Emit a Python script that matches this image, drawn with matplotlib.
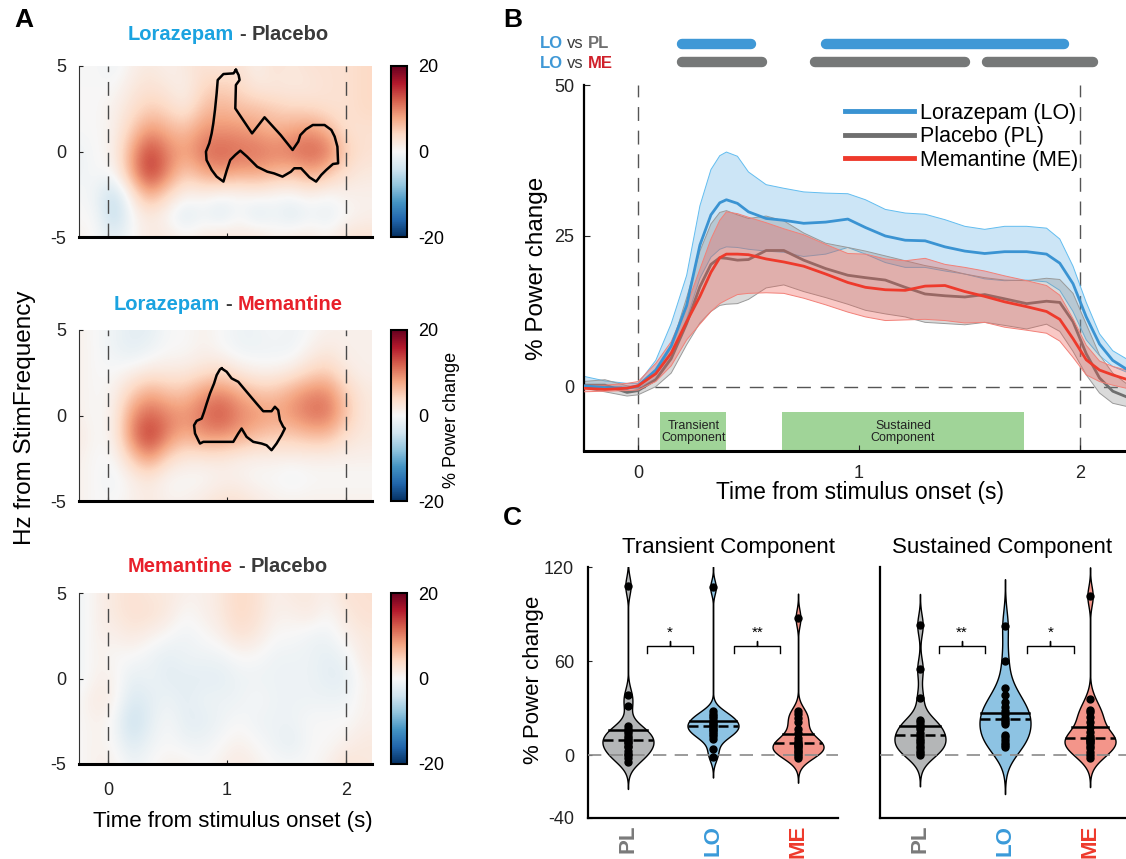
import numpy as np
import matplotlib
matplotlib.use('Agg')
import matplotlib.pyplot as plt
from matplotlib import mlab
from matplotlib.patches import Rectangle
from matplotlib.lines import Line2D
from matplotlib.offsetbox import TextArea, HPacker, AnnotationBbox

plt.rcParams['font.family'] = ['Liberation Sans', 'DejaVu Sans']
plt.rcParams['axes.unicode_minus'] = False

# ---------------- data: panel A (time-frequency difference maps) ----------------
tf_times = [-0.25, -0.1, 0.05, 0.2, 0.35, 0.5, 0.65, 0.8, 0.95, 1.1, 1.25, 1.4, 1.55, 1.7, 1.85, 2.0, 2.15]
tf_freqs = [5, 3.75, 2.5, 1.25, 0, -1.25, -2.5, -3.75, -5]

lo_pl_map = [
    [0, 0, -1, 1, 2, 1, 2, 3, 2, 3, 1, 3, 2, 3, 3, 3, 4],
    [0, 0, 0, 2, 3, 2, 1, 4, 5, 4, 2, 2, 2, 2, 3, 3, 4],
    [0, 0, 1, 3, 5, 4, 2, 6, 7, 6, 6, 5, 4, 4, 3, 3, 4],
    [0, 0, 1, 5, 9, 7, 6, 9, 9, 9, 8, 7, 8, 9, 7, 3, 3],
    [-1, 0, 1, 8, 14, 10, 8, 11, 12, 11, 11, 10, 11, 12, 11, 5, 3],
    [-1, 0, 0, 8, 15, 10, 5, 8, 9, 8, 8, 7, 6, 8, 6, 3, 2],
    [0, -1, -5, 2, 8, 4, 1, 1, 0, 0, 1, 0, 0, 1, 0, 1, 1],
    [0, 0, -6, 0, 2, 0, -3, -1, -3, 0, -3, -1, -3, -1, -2, 0, 1],
    [1, 0, -2, 0, 2, 2, 1, 2, 3, 2, 3, 1, 2, 2, 1, 3, 3],
]
lo_me_map = [
    [1, 0, -1, -2, -2, 0, 0, 1, 0, -1, -1, 0, -1, 0, 1, 1, 1],
    [1, 0, -1, -2, -1, 0, 0, 1, 0, -1, -1, -1, -1, 1, 2, 1, 1],
    [1, 0, 0, 1, 2, 2, 2, 3, 4, 2, 1, 1, 2, 4, 5, 2, 1],
    [1, 0, 1, 5, 8, 6, 6, 9, 10, 8, 6, 6, 8, 10, 10, 5, 2],
    [1, 0, 1, 9, 12, 10, 9, 11, 13, 10, 9, 8, 9, 11, 11, 6, 2],
    [2, 0, 1, 10, 15, 10, 7, 9, 9, 8, 6, 5, 5, 6, 6, 3, 2],
    [1, 0, 0, 5, 9, 4, 2, 2, 2, 1, 1, 1, 1, 1, 1, 1, 1],
    [1, 0, -1, 1, 2, 0, 0, 0, 1, 1, 0, 0, -1, 0, 0, 0, 0],
    [1, 0, 0, 1, 2, 1, 1, 2, 3, 3, 2, 1, 1, 1, 1, 1, 1],
]
me_pl_map = [
    [-1, 1, 2, 3, 2, 2, 1, 1, 2, 4, 3, 1, 2, 2, 1, 3, 3],
    [-1, 1, 2, 3, 3, 2, 0, 1, 2, 4, 3, 1, 1, 2, 0, 2, 3],
    [-1, 1, 1, 2, 1, 0, -1, 0, 1, 3, 2, 0, 0, -1, -1, 1, 2],
    [-1, 1, 0, 0, -1, -2, -1, -1, -1, 0, 0, -1, -1, -1, -2, -1, 2],
    [-1, 1, 1, -2, -1, -2, -2, -2, -2, -1, -1, -1, -1, -1, -2, -2, 1],
    [0, 2, 1, -3, -2, -1, -2, -1, -1, -1, 0, -1, -1, -1, -1, -1, 1],
    [0, 1, 0, -5, -2, 0, -2, -2, -1, 0, -1, -1, -1, 0, 0, 0, 1],
    [0, 1, 0, -3, -1, 0, -1, -1, 0, 1, 0, -1, -2, 0, 0, 1, 2],
    [0, 1, 1, -1, 0, 1, 1, 0, 1, 2, 1, 0, 0, 0, 1, 3, 2],
]

# significant cluster outlines (time s, freq Hz)
cl1_t = [1.075, 1.098, 1.106, 1.075, 1.070, 1.126, 1.211, 1.316, 1.452, 1.552, 1.600, 1.617, 1.665, 1.722,
         1.821, 1.878, 1.906, 1.929, 1.935, 1.892, 1.835, 1.793, 1.750, 1.694, 1.623, 1.566, 1.538, 1.467,
         1.396, 1.339, 1.254, 1.211, 1.169, 1.112, 1.070, 1.027, 0.999, 0.970, 0.913, 0.871, 0.828, 0.823,
         0.851, 0.871, 0.885, 0.899, 0.913, 0.922, 0.970, 1.055, 1.075]
cl1_f = [4.77, 4.47, 4.18, 3.89, 2.52, 1.94, 1.06, 2.00, 0.96, 0.09, 0.58, 0.96, 1.30, 1.55,
         1.55, 1.26, 0.87, 0.28, -0.69, -0.73, -1.08, -1.37, -1.76, -1.51, -0.98, -0.98, -1.18, -1.47,
         -1.28, -1.18, -0.89, -0.59, -0.30, 0.05, -0.20, -0.50, -1.08, -1.76, -1.47, -1.08, -0.50, -0.01,
         0.48, 1.06, 1.65, 2.43, 3.40, 4.18, 4.53, 4.57, 4.77]
cl2_t = [0.955, 0.997, 1.039, 1.095, 1.165, 1.249, 1.305, 1.375, 1.403, 1.431, 1.445, 1.473, 1.487, 1.459,
         1.417, 1.375, 1.333, 1.291, 1.221, 1.165, 1.123, 1.095, 1.053, 0.801, 0.773, 0.759, 0.731, 0.723,
         0.745, 0.787, 0.807, 0.829, 0.857, 0.891, 0.913, 0.941, 0.955]
cl2_f = [2.75, 2.56, 2.17, 1.97, 1.39, 0.70, 0.25, 0.25, 0.51, 0.31, -0.27, -0.66, -0.76, -1.15,
         -1.64, -2.03, -1.74, -1.64, -1.54, -1.25, -0.76, -1.05, -1.54, -1.54, -1.64, -1.45, -1.05, -0.57,
         -0.31, -0.18, 0.21, 0.70, 1.29, 1.87, 2.36, 2.70, 2.75]

# ---------------- data: panel B (power time courses) ----------------
t = [-0.25, -0.15, -0.05, 0.0, 0.08, 0.15, 0.22, 0.28, 0.33, 0.37, 0.40, 0.45, 0.50, 0.58, 0.66, 0.75, 0.85,
     0.95, 1.03, 1.12, 1.21, 1.30, 1.39, 1.48, 1.57, 1.66, 1.76, 1.85, 1.91, 1.97, 2.03, 2.09, 2.15, 2.21]
lo_mean = [0.2, -0.1, -0.2, 0.2, 2.8, 6.8, 13.5, 23.5, 28.5, 30.5, 31.0, 30.4, 29.0, 27.9, 27.6, 27.1, 27.3,
           27.8, 26.4, 25.0, 24.3, 24.2, 23.2, 22.5, 22.1, 22.4, 22.4, 22.0, 20.5, 17.1, 11.6, 7.1, 4.4, 3.0]
lo_hi = [1.8, 1.0, 0.6, 0.6, 4.4, 10.5, 18.5, 30.0, 36.0, 38.3, 38.9, 38.2, 35.6, 33.5, 32.9, 32.3, 32.1,
         32.0, 31.0, 29.4, 28.8, 28.6, 27.7, 26.6, 26.1, 26.6, 26.6, 26.3, 24.5, 20.0, 14.0, 8.8, 6.0, 4.7]
lo_lo = [-0.2, -0.3, -0.3, -0.2, 1.4, 5.0, 11.3, 18.0, 21.5, 22.8, 23.2, 23.1, 22.8, 22.5, 22.3, 21.6, 22.0,
         23.1, 22.0, 20.6, 19.8, 19.8, 19.2, 18.7, 17.9, 17.6, 17.7, 17.4, 16.0, 12.5, 7.8, 5.2, 3.4, 2.5]
pl_mean = [0.3, 0.3, -0.9, -0.6, 1.2, 4.7, 10.5, 16.6, 20.3, 21.4, 21.3, 21.0, 21.1, 22.6, 22.6, 21.0, 19.6,
           18.5, 18.1, 17.7, 16.5, 15.4, 15.1, 14.9, 15.3, 14.6, 13.8, 14.2, 14.0, 10.8, 5.5, 1.5, -0.7, -1.6]
pl_hi = [0.9, 1.2, 0.2, 0.0, 2.2, 6.6, 14.8, 22.5, 27.0, 28.9, 29.2, 28.5, 27.9, 28.3, 27.5, 25.5, 23.8,
         23.1, 22.5, 21.7, 20.9, 20.1, 19.5, 18.7, 18.1, 17.7, 17.6, 18.0, 17.8, 15.5, 10.4, 5.3, 2.3, 0.6]
pl_lo = [-0.2, -0.8, -1.5, -1.3, 0.05, 2.3, 7.0, 10.6, 12.5, 13.5, 13.7, 13.8, 14.5, 16.4, 16.9, 15.8, 14.8,
         13.7, 12.7, 12.1, 11.6, 10.7, 10.5, 10.3, 10.7, 10.2, 9.6, 10.4, 9.2, 5.9, 2.0, -1.0, -2.7, -3.2]
me_mean = [-0.2, -0.4, -0.2, 0.2, 2.2, 5.6, 10.8, 15.0, 19.0, 21.4, 22.0, 22.0, 21.9, 21.2, 20.7, 20.0, 18.7,
           17.3, 16.5, 16.1, 16.0, 16.7, 16.8, 15.8, 15.0, 14.1, 13.3, 12.5, 11.2, 8.0, 4.5, 2.8, 2.0, 1.3]
me_hi = [0.3, 0.3, 0.6, 0.9, 3.9, 7.5, 13.5, 19.5, 24.5, 27.6, 29.0, 28.7, 28.1, 27.2, 26.2, 25.2, 23.6,
         22.1, 22.0, 21.2, 20.9, 21.3, 20.3, 19.8, 19.2, 18.4, 17.6, 16.8, 15.2, 11.3, 6.9, 4.3, 3.4, 2.8]
me_lo = [-0.8, -0.7, -0.6, -0.5, 0.9, 3.5, 7.8, 10.4, 12.5, 13.8, 14.4, 15.3, 15.5, 15.6, 15.5, 14.7, 13.6,
         12.4, 11.6, 11.0, 11.1, 11.2, 11.0, 10.6, 10.7, 9.9, 9.4, 8.9, 7.6, 4.9, 2.0, 0.9, 0.3, -0.2]

sig_lo_pl = [(0.20, 0.51), (0.85, 1.93)]
sig_lo_me = [(0.20, 0.56), (0.80, 1.48), (1.58, 2.06)]
transient_win = (0.10, 0.40)
sustained_win = (0.65, 1.75)

# ---------------- data: panel C (single-subject power per component) ----------------
groups = ['PL', 'LO', 'ME']
trans_pl = [108, 38.5, 31.5, 18.5, 17, 15.5, 14, 12.5, 11, 9.5, 8.5, 7.5, 6, 5, 3, 1, 0, -2, -4.5]
trans_lo = [107, 28, 26.5, 25, 23.5, 22, 21, 20, 19, 18, 17, 16, 15, 13.5, 12, 10.5, 4, -1]
trans_me = [87.5, 28, 26, 23.5, 21, 17, 14, 11, 9, 8, 7, 6.5, 6, 5, 4, 3, 2, 1, -0.5, -2]
sust_pl = [83, 55, 36.5, 22.5, 21, 19.5, 18, 16.5, 14, 12, 10.5, 9, 7.5, 6, 4.5, 3, 1.5, 0]
sust_lo = [82.5, 60, 43, 38.5, 34, 31, 28, 26.5, 24, 22.5, 21, 20, 13, 11.5, 10, 8, 6.5, 5]
sust_me = [101.5, 36, 29, 27.5, 24.5, 21.5, 18, 15, 12.5, 11, 10, 9.5, 8.5, 7.5, 6, 4.5, 2, 0, -2]
trans_sig = [(1.22, 1.77, '*'), (2.25, 2.79, '**')]
sust_sig = [(1.22, 1.77, '**'), (2.26, 2.81, '*')]

# ---------------- colours ----------------
BLUE, GRAY, RED = '#3A93D2', '#6F6F6F', '#EE3A2C'
T_BLUE, T_RED, T_DARK, T_GRAY = '#1BA3E0', '#E8202A', '#3A3A3A', '#7A7A7A'
V_COLORS = ['#B4B6B7', '#8DC3E3', '#F3958A']

W, H = 1126, 859
fig = plt.figure(figsize=(W / 100, H / 100), dpi=100)


def fx(px):
    return px / W


def fy(py):
    return 1 - py / H


def box(x0, y0, x1, y1):
    return [fx(x0), fy(y1), (x1 - x0) / W, (y1 - y0) / H]


def color_text(x, y, parts, size, ha=0.5, sep=4):
    areas = [TextArea(s, textprops=dict(color=c, fontsize=size, fontweight=w)) for s, c, w in parts]
    pack = HPacker(children=areas, align='baseline', pad=0, sep=sep)
    ab = AnnotationBbox(pack, (fx(x), fy(y)), xycoords='figure fraction', frameon=False,
                        box_alignment=(ha, 0.5), pad=0)
    fig.add_artist(ab)


# ================= panel A =================
tf_ext = [tf_times[0] - 0.075, tf_times[-1] + 0.075, tf_freqs[-1] - 0.625, tf_freqs[0] + 0.625]
maps = [lo_pl_map, lo_me_map, me_pl_map]
outlines = [(cl1_t, cl1_f), (cl2_t, cl2_f), None]
ytops = [66, 330, 593]
titles = [
    [('Lorazepam', T_BLUE, 'bold'), ('-', T_DARK, 'bold'), ('Placebo', T_DARK, 'bold')],
    [('Lorazepam', T_BLUE, 'bold'), ('-', T_DARK, 'bold'), ('Memantine', T_RED, 'bold')],
    [('Memantine', T_RED, 'bold'), ('-', T_DARK, 'bold'), ('Placebo', T_DARK, 'bold')],
]
title_y = [35, 304, 567]

for i in range(3):
    ax = fig.add_axes(box(79, ytops[i], 372, ytops[i] + 171))
    cax = fig.add_axes(box(391, ytops[i], 407, ytops[i] + 171))
    im = ax.imshow(np.array(maps[i], float), cmap='RdBu_r', vmin=-20, vmax=20, aspect='auto',
                   interpolation='bicubic', extent=tf_ext)
    ax.set_xlim(-0.245, 2.22)
    ax.set_ylim(-5, 5)
    for x0 in (0, 2):
        ax.axvline(x0, color='#4A4A4A', lw=1, dashes=(10, 7))
    if outlines[i] is not None:
        ax.plot(outlines[i][0], outlines[i][1], color='k', lw=1.8)
    for s in ('top', 'right'):
        ax.spines[s].set_visible(False)
    ax.spines['left'].set_linewidth(0.8)
    ax.spines['left'].set_color('#333333')
    ax.spines['bottom'].set_linewidth(2.2)
    ax.set_yticks([-5, 0, 5])
    ax.set_xticks([0, 1, 2])
    ax.tick_params(direction='in', length=3, labelsize=13, pad=9, colors='#222222')
    ax.tick_params(axis='x', pad=13)
    if i < 2:
        ax.set_xticklabels([])
    cb = fig.colorbar(im, cax=cax, ticks=[-20, 0, 20])
    cb.outline.set_linewidth(1.5)
    cax.tick_params(labelsize=13, length=0, pad=8)
    color_text(228, title_y[i], titles[i], 14.5)

fig.text(fx(25), fy(418), 'Hz from StimFrequency', rotation=90, fontsize=17.5, ha='center', va='center')
fig.text(fx(233), fy(822), 'Time from stimulus onset (s)', fontsize=16, ha='center', va='center')
fig.text(fx(451), fy(420), '% Power change', rotation=90, fontsize=13, ha='center', va='center')

# ================= panel B =================
axb = fig.add_axes(box(584, 85, 1126, 451))
tt = np.array(t)
series = [
    (lo_mean, lo_lo, lo_hi, BLUE, '#4AA3DF', '#62BDF0', 0.28),
    (pl_mean, pl_lo, pl_hi, GRAY, '#8C8C8C', '#9A9A9A', 0.32),
    (me_mean, me_lo, me_hi, RED, '#EE5A4F', '#F28078', 0.33),
]
for k, (m, lo, hi, lc, fc, ec, a) in enumerate(series):
    axb.fill_between(tt, lo, hi, facecolor=fc, alpha=a, lw=0, zorder=1 + k)
    axb.plot(tt, hi, color=ec, lw=0.7, zorder=1 + k)
    axb.plot(tt, lo, color=ec, lw=0.7, zorder=1 + k)
# gray mean sits under the red band, blue and red means on top
axb.plot(tt, pl_mean, color=GRAY, lw=2, zorder=2.5)
axb.plot(tt, lo_mean, color=BLUE, lw=2, zorder=5)
axb.plot(tt, me_mean, color=RED, lw=2, zorder=6)

axb.axhline(0, color='#555555', lw=1, dashes=(10, 7), zorder=0.5)
for x0 in (0, 2):
    axb.axvline(x0, color='#555555', lw=1, dashes=(10, 7), zorder=0.5)
axb.set_xlim(-0.245, 2.21)
axb.set_ylim(-10.6, 50)
for (a0, a1), lab in [(transient_win, 'Transient\nComponent'), (sustained_win, 'Sustained\nComponent')]:
    axb.add_patch(Rectangle((a0, -10.6), a1 - a0, 6.4, facecolor='#A0D498', edgecolor='none', zorder=0.8))
    axb.text((a0 + a1) / 2, -7.4, lab, ha='center', va='center', fontsize=9, color='#222222',
             linespacing=1.0, zorder=1)
for s in ('top', 'right'):
    axb.spines[s].set_visible(False)
axb.spines['left'].set_linewidth(1.6)
axb.spines['bottom'].set_linewidth(2.2)
axb.set_xticks([0, 1, 2])
axb.set_yticks([0, 25, 50])
axb.tick_params(direction='in', length=4, labelsize=13, colors='#222222')
axb.tick_params(axis='x', pad=10)
axb.tick_params(axis='y', pad=7)
handles = [Line2D([], [], color=BLUE, lw=3.5), Line2D([], [], color=GRAY, lw=3.5),
           Line2D([], [], color=RED, lw=3.5)]
axb.legend(handles, ['Lorazepam (LO)', 'Placebo (PL)', 'Memantine (ME)'], loc='upper left',
           bbox_to_anchor=(0.465, 0.975), frameon=False, fontsize=15.5, handlelength=3.2,
           handletextpad=0.3, labelspacing=0.12, borderaxespad=0)
fig.text(fx(860), fy(493), 'Time from stimulus onset (s)', fontsize=16.5, ha='center', va='center')
fig.text(fx(537), fy(268), '% Power change', rotation=90, fontsize=17.5, ha='center', va='center')

# significance bars
axs = fig.add_axes(box(584, 30, 1126, 75))
axs.set_xlim(-0.245, 2.21)
axs.set_ylim(0, 1)
axs.axis('off')
for a0, a1 in sig_lo_pl:
    axs.plot([a0, a1], [0.69, 0.69], color='#3F98D6', lw=7.5, solid_capstyle='round')
for a0, a1 in sig_lo_me:
    axs.plot([a0, a1], [0.29, 0.29], color='#767878', lw=7.5, solid_capstyle='round')
color_text(540, 44, [('LO', '#3F98D6', 'bold'), ('vs', T_DARK, 'normal'), ('PL', '#6F6F6F', 'bold')],
           12, ha=0, sep=3)
color_text(540, 63, [('LO', '#3F98D6', 'bold'), ('vs', T_DARK, 'normal'), ('ME', '#D0202A', 'bold')],
           12, ha=0, sep=3)

# ================= panel C =================


def violins(ax, data, sig):
    stats = []
    for vals in data:
        v = np.asarray(vals, float)
        mad = np.median(np.abs(v - np.median(v)))
        bw = mad / 0.6745 * (4 / (3 * len(v))) ** 0.2
        kde = mlab.GaussianKDE(v, bw_method=bw / v.std(ddof=1))
        coords = np.linspace(v.min() - 3 * bw, v.max() + 3 * bw, 300)
        dens = kde.evaluate(coords)
        stats.append(dict(coords=coords, vals=dens, mean=v.mean(), median=np.median(v),
                          min=coords[0], max=coords[-1]))
    pos = [1, 2, 3]
    ax.axhline(0, color='#8A8A8A', lw=1.2, dashes=(8, 5), zorder=3)
    parts = ax.violin(stats, pos, widths=0.6, showmeans=False, showextrema=False, showmedians=False)
    for body, c in zip(parts['bodies'], V_COLORS):
        body.set_facecolor(c)
        body.set_edgecolor('k')
        body.set_linewidth(1)
        body.set_alpha(1)
    for p, st, vals in zip(pos, stats, data):
        scale = 0.3 / st['vals'].max()
        for val, style in ((st['mean'], '-'), (st['median'], (0, (4, 2)))):
            hw = np.interp(val, st['coords'], st['vals']) * scale
            ax.plot([p - hw, p + hw], [val, val], color='k', lw=1.8, linestyle=style, zorder=4)
        ax.plot(np.full(len(vals), p), vals, 'o', color='k', ms=5, zorder=5)
    for a0, a1, stars in sig:
        xm = (a0 + a1) / 2
        y = 69.5
        ax.plot([a0, a0, xm, xm, xm, a1, a1], [y - 4.5, y, y, y + 3.5, y, y, y - 4.5], color='k', lw=1)
        ax.text(xm, y + 4, stars, ha='center', va='bottom', fontsize=11)
    ax.set_xlim(0.53, 3.47)
    ax.set_ylim(-40, 120)
    for s in ('top', 'right'):
        ax.spines[s].set_visible(False)
    ax.spines['left'].set_linewidth(1.6)
    ax.spines['bottom'].set_linewidth(1.6)
    ax.set_xticks(pos)
    ax.set_xticklabels(groups, rotation=90, fontsize=16, fontweight='bold')
    for lab, c in zip(ax.get_xticklabels(), [T_GRAY, '#3A9AD9', RED]):
        lab.set_color(c)
    ax.tick_params(axis='x', length=0, pad=5)


axc1 = fig.add_axes(box(588, 567, 838, 818))
violins(axc1, [trans_pl, trans_lo, trans_me], trans_sig)
axc1.set_yticks([-40, 0, 60, 120])
axc1.tick_params(axis='y', direction='in', length=3, labelsize=13, pad=10, colors='#222222')

axc2 = fig.add_axes(box(880, 567, 1130, 818))
violins(axc2, [sust_pl, sust_lo, sust_me], sust_sig)
axc2.set_yticks([])

fig.text(fx(728), fy(548), 'Transient Component', fontsize=16, ha='center', va='center')
fig.text(fx(1002), fy(548), 'Sustained Component', fontsize=16, ha='center', va='center')
fig.text(fx(533), fy(680), '% Power change', rotation=90, fontsize=16, ha='center', va='center')

# panel letters
for lab, x, y in (('A', 24, 20), ('B', 513, 20), ('C', 512, 518)):
    fig.text(fx(x), fy(y), lab, fontsize=19, fontweight='bold', ha='center', va='center')

fig.savefig('out.png', dpi=100)
